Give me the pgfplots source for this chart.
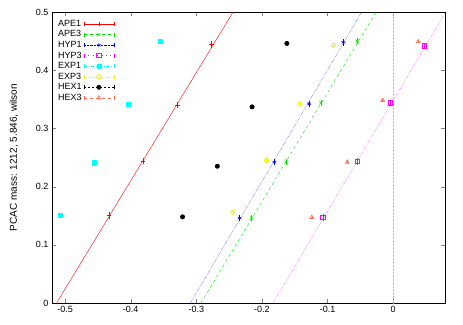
\documentclass[border=0pt]{standalone}
\usepackage{fontspec}
\setmainfont{Liberation Sans}
\usepackage{pgfplots}
\pgfplotsset{compat=1.18}

\definecolor{gpred}{RGB}{255,0,0}
\definecolor{gpgreen}{RGB}{0,230,0}
\definecolor{gpblue}{RGB}{0,0,255}
\definecolor{gpmag}{RGB}{255,0,255}
\definecolor{gpcyan}{RGB}{0,255,255}
\definecolor{gpyel}{RGB}{240,240,0}
\definecolor{gpcoral}{RGB}{255,114,86}

\pgfplotsset{
  gpkey/.style={legend image code/.code={
    \draw[##1] (0pt,0pt)--(30pt,0pt);
    \draw[##1,solid] (0pt,-2pt)--(0pt,2pt) (30pt,-2pt)--(30pt,2pt);
    \draw[##1,solid,only marks] plot coordinates {(15pt,0pt)};}},
  pt/.style={only marks,mark size=2.2pt,forget plot,color=#1,
    mark options={solid,line width=0.5pt,draw=#1,fill=#1},
    error bars/y dir=both,error bars/y explicit,
    error bars/error bar style={solid,line width=0.4pt,color=#1},
    error bars/error mark options={mark size=1.5pt,color=#1}},
  ptopen/.style={pt=#1,mark options={solid,line width=0.75pt,draw=#1,fill=white}},
}

\begin{document}
\begin{tikzpicture}
\useasboundingbox (-52pt,-21pt) rectangle (411pt,303pt);
\begin{axis}[scale only axis,width=393pt,height=291pt,at={(0pt,0pt)},anchor=south west,
  xmin=-0.52,xmax=0.079,ymin=0,ymax=0.5,
  xtick={-0.5,-0.4,-0.3,-0.2,-0.1,0},
  ytick={0,0.1,0.2,0.3,0.4,0.5},
  tick align=inside,major tick length=4pt,
  xtick pos=both,ytick pos=both,
  /pgf/number format/assume math mode=true,
  /pgf/number format/fixed,/pgf/number format/precision=1,
  tick label style={font=\fontsize{9}{10}\selectfont},
  ylabel={PCAC mass: 1212, 5.846, wilson},
  ylabel style={font=\fontsize{9}{10}\selectfont},
  every axis y label/.style={at={(-38pt,145.5pt)},rotate=90,anchor=center},
  axis line style={line width=0.6pt},
  gpkey,
  legend plot pos=right,
  legend cell align=left,
  legend style={draw=none,fill=none,at={(3pt,286pt)},anchor=north west,
    font=\fontsize{9}{10}\selectfont,row sep=-1.2pt,inner sep=1pt},
]

\addlegendimage{gpred,solid,mark=+,mark size=2.2pt}
\addlegendentry{APE1}
\addlegendimage{gpgreen,dashed,mark=x,mark size=2.2pt}
\addlegendentry{APE3}
\addlegendimage{gpblue,densely dotted,mark=asterisk,mark size=2.2pt}
\addlegendentry{HYP1}
\addlegendimage{gpmag,loosely dotted,mark=square,mark size=2.2pt,mark options={line width=0.75pt,fill=white}}
\addlegendentry{HYP3}
\addlegendimage{gpcyan,dash dot,mark=square*,mark size=2.2pt}
\addlegendentry{EXP1}
\addlegendimage{gpyel,dotted,mark=o,mark size=2.2pt,mark options={line width=0.75pt,fill=white}}
\addlegendentry{EXP3}
\addlegendimage{black,dash pattern=on 2pt off 2pt,mark=*,mark size=2.2pt}
\addlegendentry{HEX1}
\addlegendimage{gpcoral,dashed,mark=triangle,mark size=2.2pt,mark options={line width=0.75pt,fill=white}}
\addlegendentry{HEX3}

% zero line
\addplot[gray!50,densely dotted,forget plot] coordinates {(0,0)(0,0.5)};

% fitted lines
\addplot[gpred,forget plot] coordinates {(-0.513,0)(-0.244,0.5)};
\addplot[gpgreen,dashed,forget plot] coordinates {(-0.293,0)(-0.026,0.5)};
\addplot[gpblue,densely dotted,forget plot] coordinates {(-0.309,0)(-0.048,0.5)};
\addplot[gpmag,densely dotted,forget plot] coordinates {(-0.183,0)(0.080,0.5)};

% APE1
\addplot[mark=+,pt=gpred] coordinates {
 (-0.433,0.150) +- (0,0.003) (-0.381,0.244) +- (0,0.003)
 (-0.329,0.340) +- (0,0.003) (-0.277,0.444) +- (0,0.003)};
% APE3
\addplot[mark=x,pt=gpgreen] coordinates {
 (-0.216,0.146) +- (0,0.003) (-0.163,0.242) +- (0,0.003)
 (-0.110,0.344) +- (0,0.003) (-0.055,0.450) +- (0,0.003)};
% HYP1
\addplot[mark=asterisk,pt=gpblue] coordinates {
 (-0.234,0.146) +- (0,0.003) (-0.181,0.242) +- (0,0.003)
 (-0.128,0.342) +- (0,0.003) (-0.076,0.448) +- (0,0.003)};
% HYP3
\addplot[mark=square,ptopen=gpmag] coordinates {
 (-0.107,0.147) +- (0,0.003) (-0.055,0.243) +- (0,0.003)
 (-0.004,0.344) +- (0,0.003) (0.048,0.442) +- (0,0.003)};
% EXP1
\addplot[mark=square*,pt=gpcyan] coordinates {
 (-0.507,0.151) +- (0,0) (-0.456,0.241) +- (0,0)
 (-0.404,0.341) +- (0,0) (-0.355,0.450) +- (0,0)};
% EXP3
\addplot[mark=o,ptopen=gpyel] coordinates {
 (-0.244,0.156) +- (0,0) (-0.193,0.245) +- (0,0)
 (-0.142,0.342) +- (0,0) (-0.091,0.443) +- (0,0)};
% HEX1
\addplot[mark=*,pt=black] coordinates {
 (-0.321,0.148) +- (0,0) (-0.268,0.235) +- (0,0)
 (-0.215,0.337) +- (0,0) (-0.162,0.446) +- (0,0)};
% HEX3
\addplot[mark=triangle,ptopen=gpcoral] coordinates {
 (-0.124,0.147) +- (0,0) (-0.070,0.242) +- (0,0)
 (-0.016,0.348) +- (0,0) (0.038,0.449) +- (0,0)};
\end{axis}
\end{tikzpicture}
\end{document}
